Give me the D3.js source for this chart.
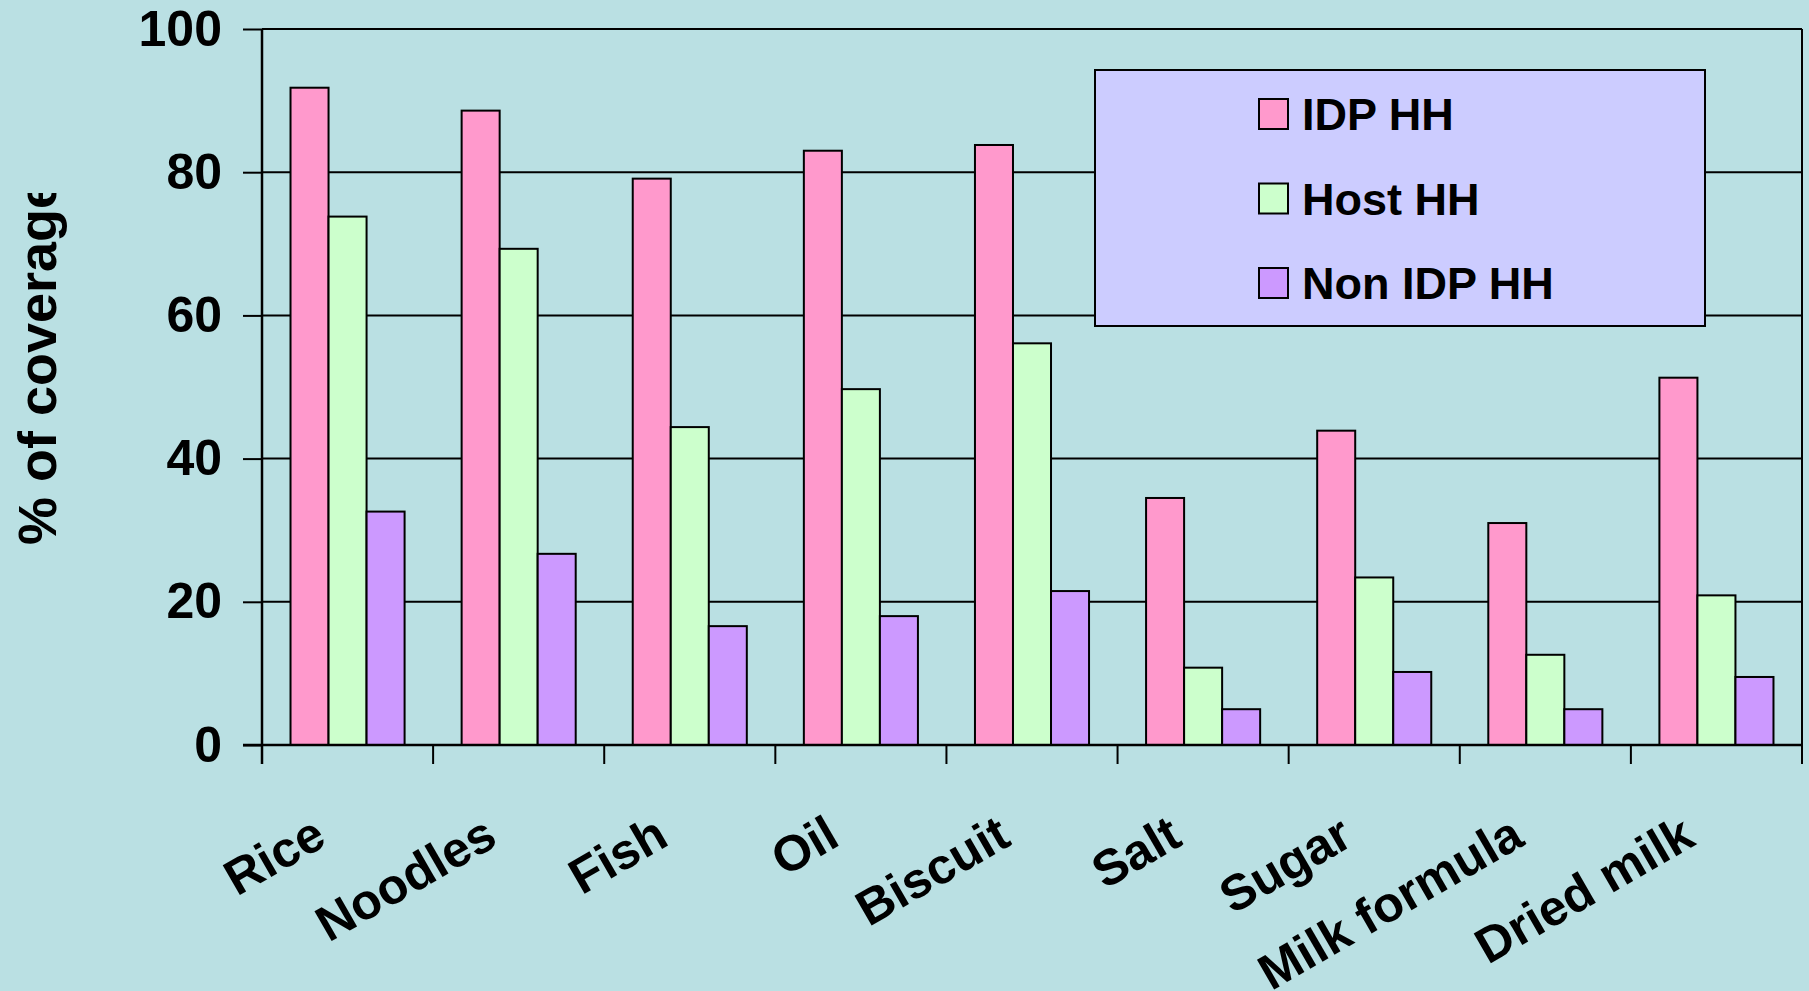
<!DOCTYPE html>
<html>
<head>
    <title></title>
    <meta charset="utf-8" />
    <script src="https://d3js.org/d3.v7.min.js"></script>
    <style>
        body { margin: 0; background: #bae0e3; }
        svg { display: block; }
        text { font-family: "Liberation Sans", Arial, sans-serif; font-weight: bold; fill: #000; }
    </style>
</head>
<body>
    <script>
        // chart values
        var categories = ["Rice", "Noodles", "Fish", "Oil", "Biscuit", "Salt", "Sugar", "Milk formula", "Dried milk"];
        var seriesNames = ["IDP HH", "Host HH", "Non IDP HH"];
        var idpHH = [91.8, 88.6, 79.1, 83.0, 83.8, 34.5, 43.9, 31.0, 51.3];
        var hostHH = [73.8, 69.3, 44.4, 49.7, 56.1, 10.8, 23.4, 12.6, 20.9];
        var nonIdpHH = [32.6, 26.7, 16.6, 18.0, 21.5, 5.0, 10.2, 5.0, 9.5];
        var yTicks = [0, 20, 40, 60, 80, 100];
        var colors = ["#ff99cc", "#ccffcc", "#cc99ff"];

        var seriesValues = [idpHH, hostHH, nonIdpHH];

        var W = 1809,
            H = 991,
            plotLeft = 262,
            plotRight = 1802,
            plotTop = 29,
            plotBottom = 745;

        var svg = d3.select("body")
            .append("svg")
            .attr("width", W)
            .attr("height", H);

        svg.append("rect")
            .attr("width", W)
            .attr("height", H)
            .attr("fill", "#bae0e3");

        var x0 = d3.scaleBand()
            .domain(categories)
            .range([plotLeft, plotRight]);

        var x1 = d3.scaleBand()
            .domain(seriesNames)
            .range([0, x0.bandwidth()])
            .paddingOuter(0.75);

        var y = d3.scaleLinear()
            .domain([0, 100])
            .range([plotBottom, plotTop]);

        // gridlines
        svg.append("g")
            .selectAll("line")
            .data(yTicks)
            .join("line")
            .attr("x1", plotLeft)
            .attr("x2", plotRight)
            .attr("y1", function (d) { return y(d); })
            .attr("y2", function (d) { return y(d); })
            .attr("stroke", "#000")
            .attr("stroke-width", 2);

        // right border of plot area
        svg.append("line")
            .attr("x1", plotRight).attr("x2", plotRight)
            .attr("y1", plotTop).attr("y2", plotBottom)
            .attr("stroke", "#000").attr("stroke-width", 2);

        // bars
        var groups = svg.append("g")
            .selectAll("g")
            .data(categories)
            .join("g")
            .attr("transform", function (d) { return "translate(" + x0(d) + ",0)"; });

        groups.selectAll("rect")
            .data(function (d, i) {
                return seriesNames.map(function (s, j) {
                    return { name: s, value: seriesValues[j][i], color: colors[j] };
                });
            })
            .join("rect")
            .attr("x", function (d) { return x1(d.name); })
            .attr("width", x1.bandwidth())
            .attr("y", function (d) { return y(d.value); })
            .attr("height", function (d) { return y(0) - y(d.value); })
            .attr("fill", function (d) { return d.color; })
            .attr("stroke", "#000")
            .attr("stroke-width", 2);

        // y axis
        var yAxis = svg.append("g")
            .attr("transform", "translate(" + plotLeft + ",0)")
            .call(d3.axisLeft(y).tickValues(yTicks).tickSize(19).tickPadding(21));
        yAxis.select(".domain").attr("stroke", "#000").attr("stroke-width", 2.5)
            .attr("d", "M0," + plotTop + "V" + (plotBottom + 19));
        yAxis.selectAll(".tick line").attr("stroke", "#000").attr("stroke-width", 2);
        yAxis.selectAll(".tick text")
            .attr("font-size", 50)
            .attr("font-family", "'Liberation Sans', Arial, sans-serif")
            .attr("font-weight", "bold")
            .attr("fill", "#000");

        // x axis line + boundary ticks
        svg.append("line")
            .attr("x1", plotLeft - 19).attr("x2", plotRight)
            .attr("y1", plotBottom).attr("y2", plotBottom)
            .attr("stroke", "#000").attr("stroke-width", 2.5);

        var boundaries = categories.map(function (c) { return x0(c); }).concat([plotRight]);
        svg.append("g")
            .selectAll("line")
            .data(boundaries)
            .join("line")
            .attr("x1", function (d) { return d; })
            .attr("x2", function (d) { return d; })
            .attr("y1", plotBottom)
            .attr("y2", plotBottom + 19)
            .attr("stroke", "#000")
            .attr("stroke-width", 2);

        // category labels, rotated
        svg.append("g")
            .selectAll("text")
            .data(categories)
            .join("text")
            .attr("transform", function (d) {
                return "translate(" + (x0(d) + x0.bandwidth() / 2 - 19) + "," + 844 + ") rotate(-30)";
            })
            .attr("text-anchor", "end")
            .attr("font-size", 50)
            .text(function (d) { return d; });

        // y title, clipped at the top like the original
        svg.append("clipPath")
            .attr("id", "titleclip")
            .append("rect")
            .attr("x", 0).attr("y", 193)
            .attr("width", 120).attr("height", 500);

        svg.append("g")
            .attr("clip-path", "url(#titleclip)")
            .append("text")
            .attr("transform", "translate(56,545) rotate(-90)")
            .attr("font-size", 54)
            .text("% of coverage");

        // legend
        var legend = svg.append("g");
        legend.append("rect")
            .attr("x", 1095).attr("y", 70)
            .attr("width", 610).attr("height", 256)
            .attr("fill", "#ccccff")
            .attr("stroke", "#000")
            .attr("stroke-width", 2);

        var items = legend.selectAll("g")
            .data(seriesNames)
            .join("g")
            .attr("transform", function (d, i) { return "translate(1259," + (114 + i * 84.5) + ")"; });

        items.append("rect")
            .attr("x", 0).attr("y", -15)
            .attr("width", 29).attr("height", 30)
            .attr("fill", function (d, i) { return colors[i]; })
            .attr("stroke", "#000")
            .attr("stroke-width", 2);

        items.append("text")
            .attr("x", 43)
            .attr("y", 16)
            .attr("font-size", 45)
            .text(function (d) { return d; });
    </script>
</body>
</html>
